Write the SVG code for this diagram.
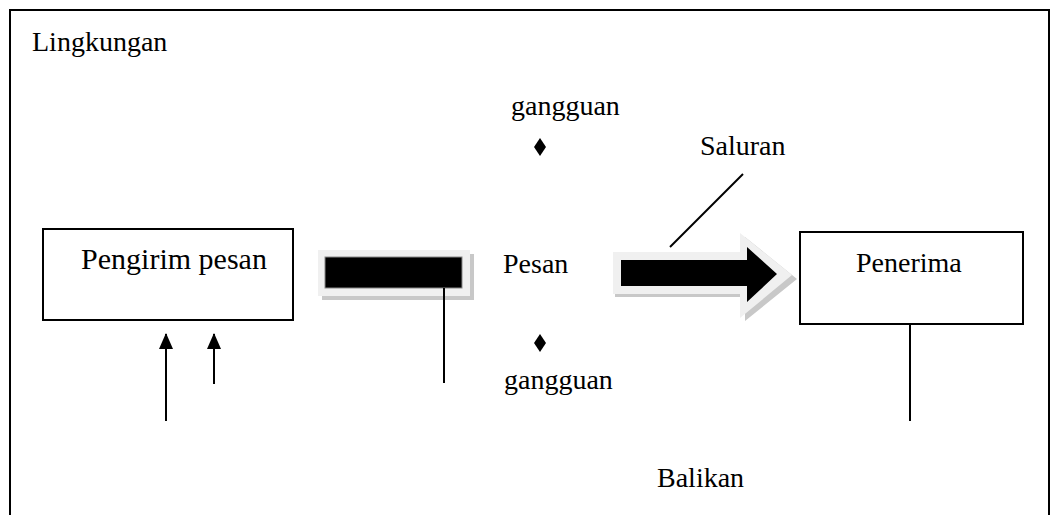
<svg xmlns="http://www.w3.org/2000/svg" width="1053" height="515" viewBox="0 0 1053 515">
<defs>
<style>
.t{font-family:"Liberation Serif","Times New Roman",serif;font-size:28px;fill:#000}
.box{fill:#fff;stroke:#000;stroke-width:2}
.ln{stroke:#000;stroke-width:2;fill:none}
</style>
<marker id="ah" markerWidth="16" markerHeight="14" refX="15" refY="7" orient="auto" markerUnits="userSpaceOnUse" viewBox="0 0 16 14">
<path d="M0,0 L16,7 L0,14 Z" fill="#000"/>
</marker>
</defs>
<rect width="1053" height="515" fill="#fff"/>
<g id="lingkungan">
<path d="M10,515 V10 H1049 V515" class="ln"/>
<text class="t" x="32" y="51">Lingkungan</text>
</g>
<g id="pengirim">
<rect class="box" x="43" y="229" width="250" height="91"/>
<text class="t" x="174" y="269" text-anchor="middle" style="font-size:30px">Pengirim pesan</text>
</g>
<g id="pesan-bar">
<rect x="322" y="254" width="152" height="46" fill="#c8c8c8"/>
<rect x="318" y="250" width="152" height="46" fill="#f0f0f0"/>
<rect x="325" y="257" width="137" height="31" fill="#000" stroke="#888" stroke-width="1"/>
</g>
<g id="pesan">
<text class="t" x="503" y="273">Pesan</text>
</g>
<g id="gangguan-atas">
<text class="t" x="511" y="115">gangguan</text>
<path d="M540,138 L546,147 L540,156 L534,147 Z" fill="#000"/>
</g>
<g id="gangguan-bawah">
<path d="M540,334 L546,343 L540,352 L534,343 Z" fill="#000"/>
<text class="t" x="504" y="389">gangguan</text>
</g>
<g id="saluran-arrow">
<path d="M615,297 H745 V321 L797,279 L745,237 V255 H615 Z" fill="#c8c8c8"/>
<path d="M613,252 H740 V233 L792,275 L740,318 V294 H613 Z" fill="#f0f0f0"/>
<path d="M621,260 H747 V247 L777,274 L747,302 V286 H621 Z" fill="#000"/>
</g>
<g id="saluran">
<text class="t" x="700" y="155">Saluran</text>
</g>
<g id="penerima">
<rect class="box" x="800" y="232" width="223" height="92"/>
<text class="t" x="856" y="272">Penerima</text>
</g>
<g id="balikan">
<text class="t" x="657" y="487">Balikan</text>
</g>
<g id="connectors">
<line class="ln" x1="743" y1="174" x2="670" y2="247"/>
<line class="ln" x1="444" y1="288" x2="444" y2="383"/>
<line class="ln" x1="910" y1="324" x2="910" y2="421"/>
<line class="ln" x1="166" y1="421" x2="166" y2="334" marker-end="url(#ah)"/>
<line class="ln" x1="214" y1="384" x2="214" y2="334" marker-end="url(#ah)"/>
</g>
</svg>
